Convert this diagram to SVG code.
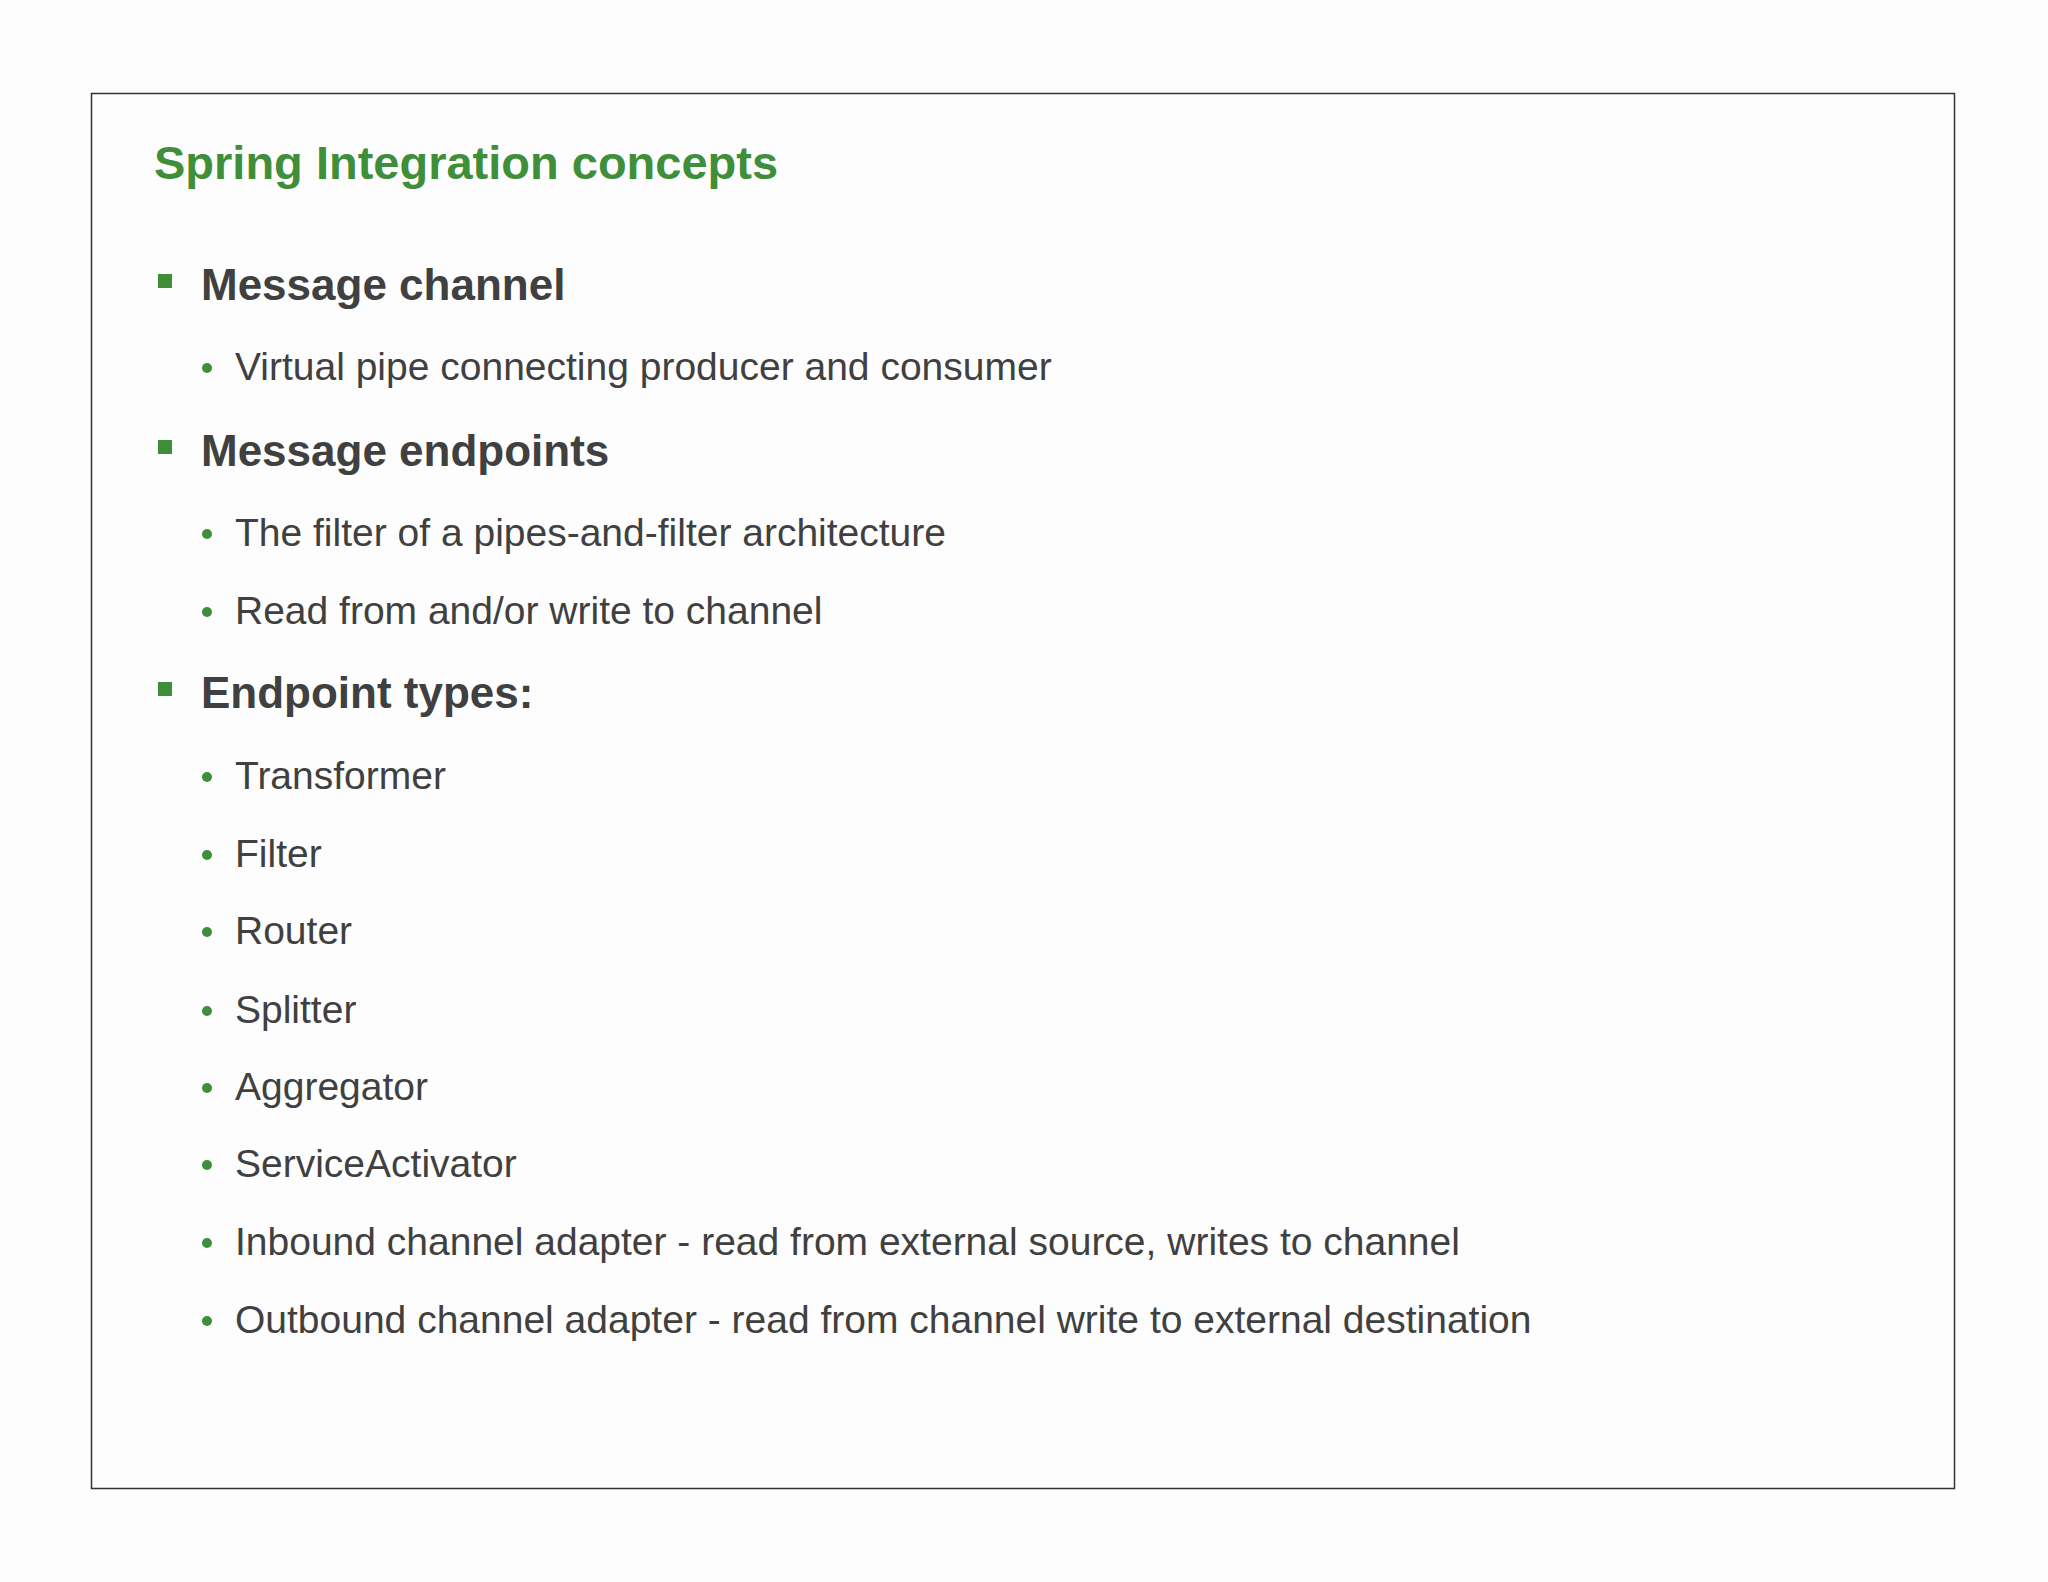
<svg xmlns="http://www.w3.org/2000/svg" width="2048" height="1582" viewBox="0 0 2048 1582">
<style>
.t{font-family:"Liberation Sans",Arial,sans-serif;fill:#404040}
.h{font-size:44px;font-weight:bold}
.s{font-size:39px}
.g{fill:#3f8e3a}
</style>
<rect width="2048" height="1582" fill="#fdfdfd"/>
<rect x="91.5" y="93.5" width="1863" height="1395" fill="#fdfdfd" stroke="#333" stroke-width="1.5"/>
<text x="154" y="179" class="t g" style="font-size:47px;font-weight:bold;fill:#3f8e3a">Spring Integration concepts</text>
<g id="l1"><rect x="158" y="274" width="14" height="14" class="g"/><text x="201" y="300" class="t h">Message channel</text></g>
<g id="l2"><circle cx="207" cy="368" r="5" class="g"/><text x="235" y="380" class="t s">Virtual pipe connecting producer and consumer</text></g>
<g id="l3"><rect x="158" y="440" width="14" height="14" class="g"/><text x="201" y="466" class="t h">Message endpoints</text></g>
<g id="l4"><circle cx="207" cy="534" r="5" class="g"/><text x="235" y="546" class="t s">The filter of a pipes-and-filter architecture</text></g>
<g id="l5"><circle cx="207" cy="612" r="5" class="g"/><text x="235" y="624" class="t s">Read from and/or write to channel</text></g>
<g id="l6"><rect x="158" y="682" width="14" height="14" class="g"/><text x="201" y="708" class="t h">Endpoint types:</text></g>
<g id="l7"><circle cx="207" cy="777" r="5" class="g"/><text x="235" y="789" class="t s">Transformer</text></g>
<g id="l8"><circle cx="207" cy="855" r="5" class="g"/><text x="235" y="867" class="t s">Filter</text></g>
<g id="l9"><circle cx="207" cy="932" r="5" class="g"/><text x="235" y="944" class="t s">Router</text></g>
<g id="l10"><circle cx="207" cy="1011" r="5" class="g"/><text x="235" y="1023" class="t s">Splitter</text></g>
<g id="l11"><circle cx="207" cy="1088" r="5" class="g"/><text x="235" y="1100" class="t s">Aggregator</text></g>
<g id="l12"><circle cx="207" cy="1165" r="5" class="g"/><text x="235" y="1177" class="t s">ServiceActivator</text></g>
<g id="l13"><circle cx="207" cy="1243" r="5" class="g"/><text x="235" y="1255" class="t s">Inbound channel adapter - read from external source, writes to channel</text></g>
<g id="l14"><circle cx="207" cy="1321" r="5" class="g"/><text x="235" y="1333" class="t s">Outbound channel adapter - read from channel write to external destination</text></g>
<g id="connectors"/>
</svg>
